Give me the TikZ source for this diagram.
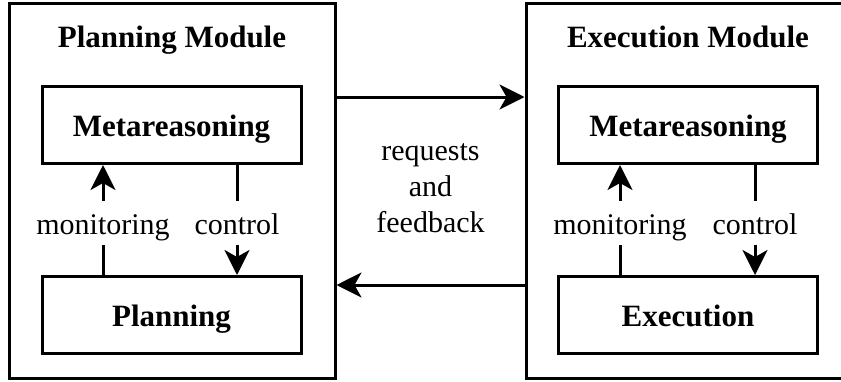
\documentclass[tikz,border=0pt]{standalone}
\usepackage{fontspec}
\setmainfont{Liberation Serif}
\usetikzlibrary{arrows.meta}
\begin{document}
\begin{tikzpicture}[x=1pt,y=-1pt,
  line width=3pt,
  every node/.style={font=\fontsize{30}{36}\selectfont},
  module/.style={draw, minimum width=326pt, minimum height=374.5pt, inner sep=0pt},
  block/.style={draw, minimum width=259pt, minimum height=77pt, inner sep=0pt,
    text height=22pt, text depth=0pt,
    font=\fontsize{31}{36}\selectfont\bfseries},
  modtitle/.style={font=\fontsize{31}{36}\selectfont\bfseries, anchor=base},
  arr/.style={-{Stealth[length=25pt,width=25pt,inset=7pt]}},
  linklabel/.style={inner sep=0pt, minimum height=41pt, text height=24pt, text depth=0pt}
]
\useasboundingbox (0,0) rectangle (841,381);
\clip (0,0) rectangle (841,381);

% the two modules
\node[module] (lmod) at (172,190.75) {};
\node[module] (rmod) at (689,190.75) {};
\node[modtitle] (ltitle) at (172,47) {Planning Module};
\node[modtitle] (rtitle) at (688,47) {Execution Module};

% inner blocks
\node[block] (lmeta) at (171.5,125) {Metareasoning};
\node[block] (lplan) at (171.5,315) {Planning};
\node[block] (rmeta) at (688,125) {Metareasoning};
\node[block] (rexec) at (688,315) {Execution};

% monitoring / control labels
\node[linklabel] (lmon) at (103,222.5) {monitoring};
\node[linklabel] (lctl) at (237,222.5) {control};
\node[linklabel] (rmon) at (620,222.5) {monitoring};
\node[linklabel] (rctl) at (755,222.5) {control};

% monitoring and control loops
\draw (lplan.north -| lmon) -- (lmon.south);
\draw[arr] (lmon.north) -- (lmeta.south -| lmon);
\draw (lmeta.south -| lctl) -- (lctl.north);
\draw[arr] (lctl.south) -- (lplan.north -| lctl);

\draw (rexec.north -| rmon) -- (rmon.south);
\draw[arr] (rmon.north) -- (rmeta.south -| rmon);
\draw (rmeta.south -| rctl) -- (rctl.north);
\draw[arr] (rctl.south) -- (rexec.north -| rctl);

% links between the modules
\coordinate (req) at (430,97);
\coordinate (fb) at (430,285);
\draw[arr] (lmod.east |- req) -- (rmod.west |- req);
\draw[arr] (rmod.west |- fb) -- (lmod.east |- fb);
\node[align=center, inner sep=0pt] (reqlabel) at (430.5,188) {requests\\and\\feedback};
\end{tikzpicture}
\end{document}
